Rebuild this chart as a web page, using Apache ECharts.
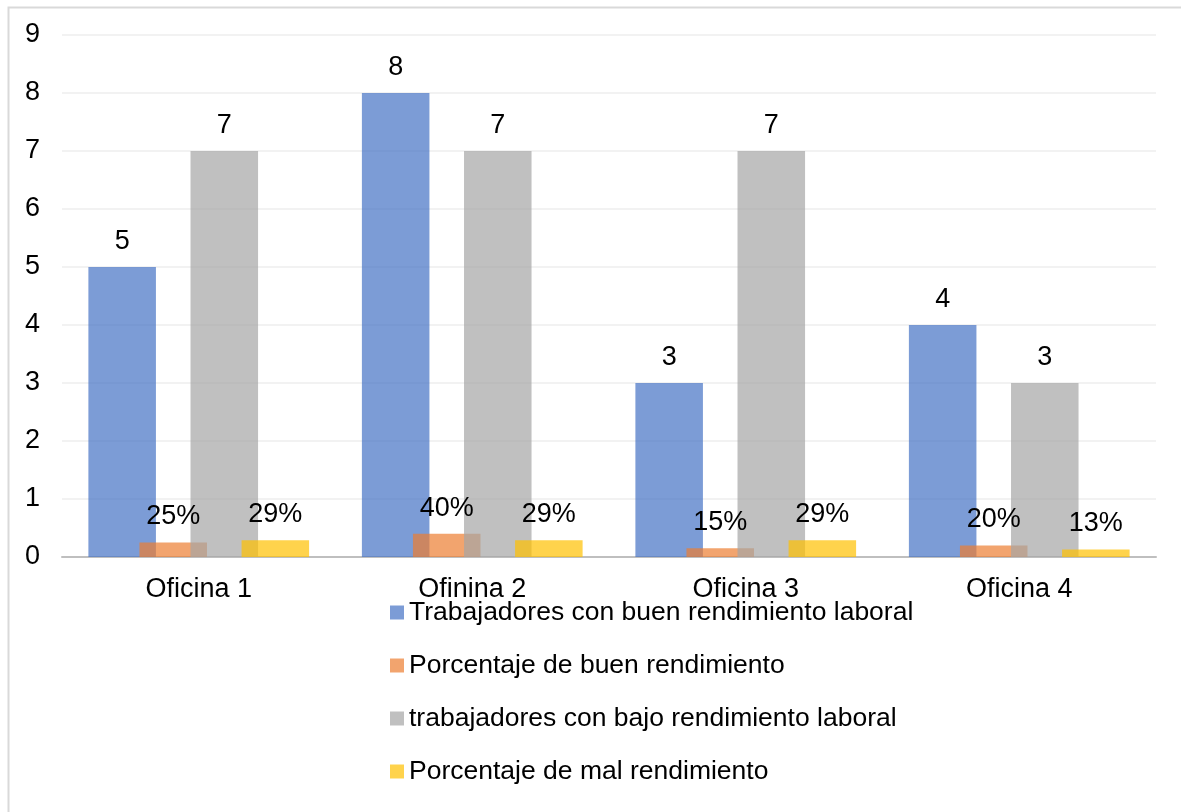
<!DOCTYPE html>
<html>
<head>
<meta charset="utf-8">
<script src="https://cdn.jsdelivr.net/npm/echarts@6/dist/echarts.min.js"></script>
<style>
html,body{margin:0;padding:0;background:#fff;}
#chart{width:1181px;height:812px;}
</style>
</head>
<body>
<div id="chart"></div>
<script>
var categories = ['Oficina 1', 'Ofinina 2', 'Oficina 3', 'Oficina 4'];
var buenTrab = [5, 8, 3, 4];
var buenPct = [0.25, 0.40, 0.15, 0.20];
var bajoTrab = [7, 7, 7, 3];
var malPct = [0.29, 0.29, 0.29, 0.13];
var yTicks = [0, 1, 2, 3, 4, 5, 6, 7, 8, 9];
var seriesNames = [
  'Trabajadores con buen rendimiento laboral',
  'Porcentaje de buen rendimiento',
  'trabajadores con bajo rendimiento laboral',
  'Porcentaje de mal rendimiento'
];

var FONT = '"Liberation Sans", Arial, sans-serif';
var FS = 27;
var chart = echarts.init(document.getElementById('chart'));

function numLabel(p){ return String(p.value); }
function pctLabel(p){ return Math.round(p.value * 100) + '%'; }

function bar(name, data, color, fmt){
  return {
    name: name,
    type: 'bar',
    data: data,
    barCategoryGap: '19.3%',
    barGap: '-24.4%',
    itemStyle: { color: color },
    label: {
      show: true, position: 'top', distance: 12,
      formatter: fmt, color: '#000', fontSize: FS, fontFamily: FONT
    }
  };
}

chart.setOption({
  animation: false,
  backgroundColor: '#fff',
  graphic: [{
    type: 'rect', left: 6, top: 5,
    shape: { width: 1200, height: 830 },
    style: { fill: 'none', stroke: '#D9D9D9', lineWidth: 2 }
  }],
  grid: { left: 62, right: 25, top: 35, bottom: 255, containLabel: false },
  legend: {
    orient: 'vertical', left: 390, top: 599, padding: 0,
    itemWidth: 14, itemHeight: 14, itemGap: 26,
    icon: 'rect',
    textStyle: { fontSize: 26.5, fontFamily: FONT, color: '#000', lineHeight: 27 },
    data: seriesNames
  },
  xAxis: {
    type: 'category', data: categories,
    axisLine: { lineStyle: { color: '#BFBFBF', width: 2 } },
    axisTick: { show: false },
    axisLabel: { fontSize: FS, fontFamily: FONT, color: '#000', margin: 19 }
  },
  yAxis: {
    type: 'value', min: yTicks[0], max: yTicks[yTicks.length - 1], interval: 1,
    axisLine: { show: false }, axisTick: { show: false },
    splitLine: { lineStyle: { color: '#EEEEEE', width: 1.5 } },
    axisLabel: { fontSize: FS, fontFamily: FONT, color: '#000', margin: 22 }
  },
  series: [
    bar(seriesNames[0], buenTrab, 'rgba(68,114,196,0.7)', numLabel),
    bar(seriesNames[1], buenPct, 'rgba(237,125,49,0.7)', pctLabel),
    bar(seriesNames[2], bajoTrab, 'rgba(165,165,165,0.7)', numLabel),
    bar(seriesNames[3], malPct, 'rgba(255,192,0,0.7)', pctLabel)
  ]
});
</script>
</body>
</html>
